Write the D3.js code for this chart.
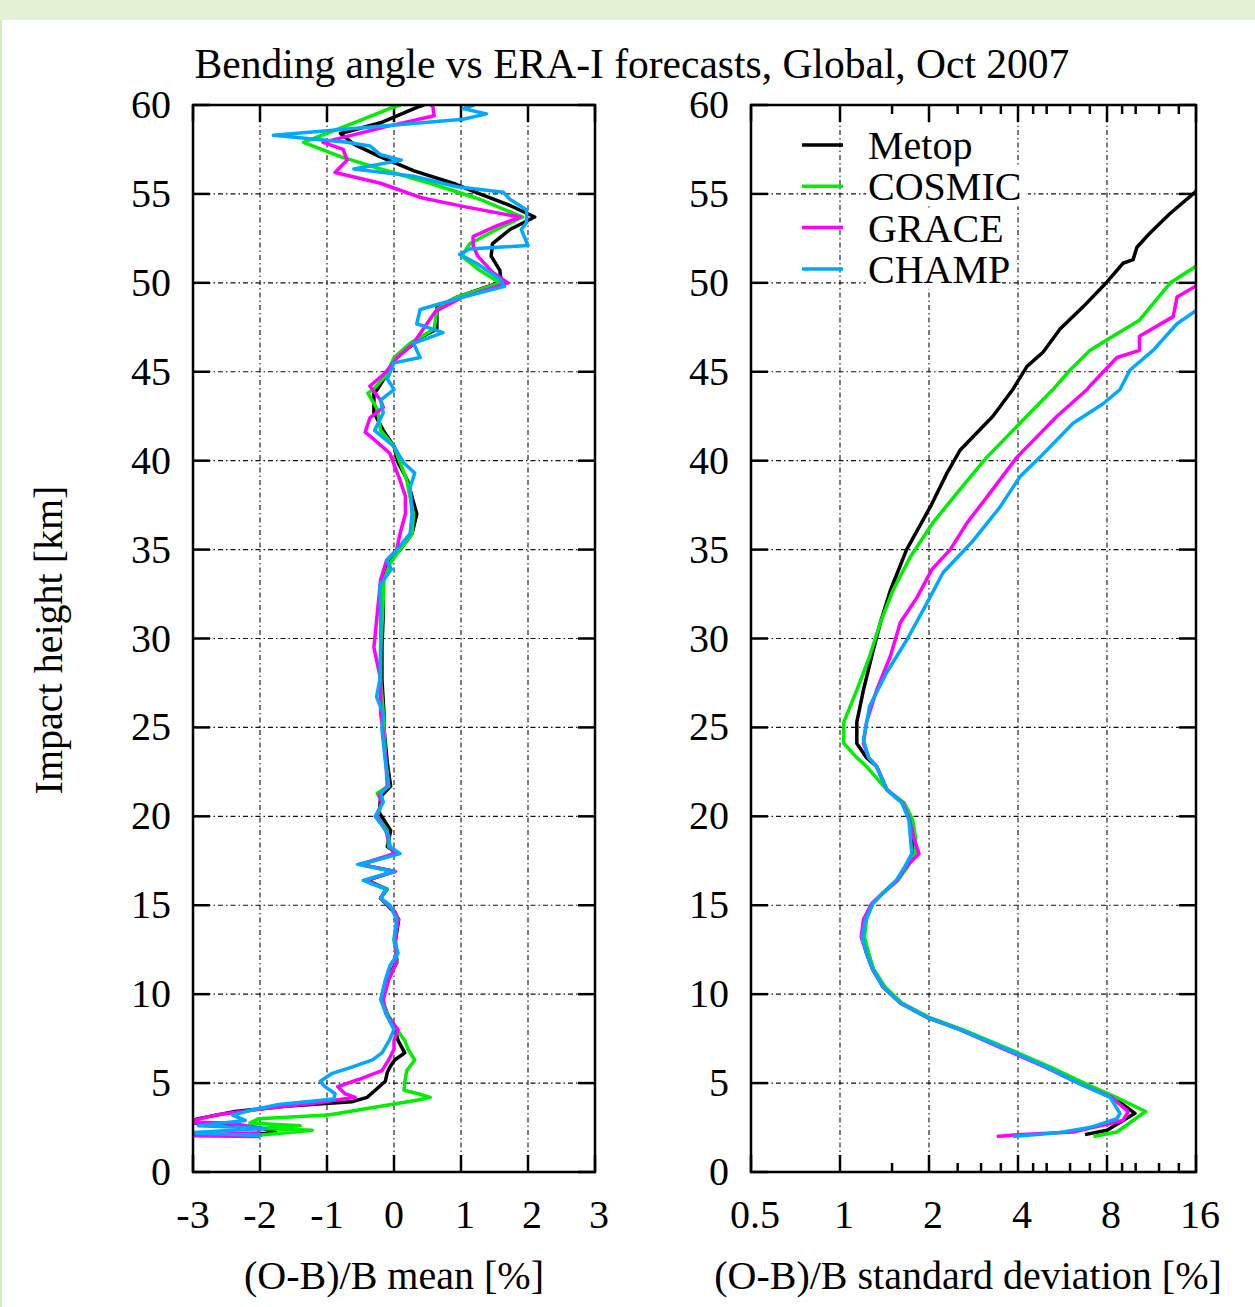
<!DOCTYPE html>
<html>
<head>
<meta charset="utf-8">
<script src="https://cdn.jsdelivr.net/npm/d3@7"></script>
<style>
  body { margin: 0; background: #fff; }
  text { font-family: "Liberation Serif", "Times New Roman", serif; fill: #000; }
  .grid { stroke: #111; stroke-width: 1.1; stroke-dasharray: 5,3,1.5,3; }
</style>
</head>
<body>
<div id="chart"></div>
<script>
var wt = 1255;
var ht = 1307;

var title = "Bending angle vs ERA-I forecasts, Global, Oct 2007";
var seriesNames = ["Metop", "COSMIC", "GRACE", "CHAMP"];
var seriesColors = ["#000000", "#00ee00", "#ff00ff", "#00a8ff"];

var heightTicks = [0, 5, 10, 15, 20, 25, 30, 35, 40, 45, 50, 55, 60];
var meanTicks = [-3, -2, -1, 0, 1, 2, 3];
var sdTicks = [0.5, 1, 2, 4, 8, 16];
var sdMinorTicks = [1.5, 2.5, 3, 3.5, 4.5, 5, 6, 7, 9, 10, 12, 14];

// (O-B)/B mean [%], impact height [km]
var metopMean = [[0.45,60],[0.36,59.9],[-0.2,59.0],[-0.8,58.4],[-0.6,57.8],[-0.21,57.1],[0.3,56.3],[0.88,55.6],[1.28,55.0],[1.7,54.4],[2.1,53.7],[1.73,53.0],[1.47,52.2],[1.45,51.5],[1.58,50.7],[1.6,50.05],[0.94,49.2],[0.64,48.6],[0.64,47.4],[0.43,47.0],[0.04,45.8],[-0.1,44.9],[-0.25,44.0],[-0.3,43.8],[-0.3,42.7],[-0.16,41.7],[0,40.8],[0.06,39.9],[0.2,38.9],[0.34,37.0],[0.27,35.9],[0.09,35.0],[-0.06,34.4],[-0.16,33.3],[-0.16,31.4],[-0.18,29.5],[-0.18,27.7],[-0.15,25.8],[-0.15,25],[-0.1,23],[-0.05,21.7],[-0.2,21.1],[-0.22,20.2],[-0.05,19.2],[-0.1,18.3],[0.05,17.9],[-0.5,17.3],[0.0,16.9],[-0.4,16.4],[-0.1,15.9],[-0.2,15.4],[0.0,14.6],[0.07,14.2],[0.02,13.0],[0.04,11.8],[-0.12,10.8],[-0.17,10.1],[-0.18,9.7],[-0.1,8.9],[0.02,8.0],[0.06,7.4],[0.16,6.7],[0.01,6.3],[-0.06,5.9],[-0.1,5.6],[-0.13,5.1],[-0.28,4.6],[-0.4,4.2],[-0.63,3.95],[-1.62,3.7],[-2.37,3.4],[-2.92,3.0],[-3.1,2.8],[-2.37,2.6],[-1.97,2.45],[-1.77,2.25],[-2.1,2.1]];
var cosmicMean = [[0.1,60],[0,59.9],[-0.6,59.0],[-1.35,57.9],[-0.8,57.1],[-0.2,56.4],[0.54,55.6],[1.28,54.7],[1.92,53.7],[1.53,53.0],[1.13,52.2],[1.01,51.5],[1.28,50.7],[1.58,50.0],[0.94,49.2],[0.64,48.5],[0.6,47.4],[0.24,46.6],[0,45.8],[-0.1,44.9],[-0.31,44.0],[-0.39,43.8],[-0.25,42.9],[-0.2,41.7],[0,40.8],[0.19,38.9],[0.29,37.0],[0.27,35.9],[0.09,35.0],[-0.06,34.2],[-0.15,33.3],[-0.17,31.4],[-0.2,29.5],[-0.2,27.7],[-0.16,25.8],[-0.15,25],[-0.12,23],[-0.08,21.7],[-0.25,21.3],[-0.18,20.8],[-0.25,20.0],[-0.1,19.2],[-0.08,18.3],[0.05,17.9],[-0.52,17.3],[0.0,16.9],[-0.44,16.4],[-0.1,15.9],[-0.2,15.4],[0.02,14.6],[0.06,14.2],[0.0,13.0],[0.05,11.8],[-0.1,10.8],[-0.15,10.1],[-0.18,9.7],[-0.1,8.9],[0.05,8.0],[0.12,7.6],[0.16,7.4],[0.21,6.9],[0.31,6.3],[0.19,5.7],[0.16,5.0],[0.15,4.6],[0.36,4.4],[0.54,4.2],[0.36,4.05],[-0.98,3.2],[-2.02,3.0],[-2.15,2.75],[-1.4,2.6],[-2.0,2.45],[-1.22,2.35],[-2.07,2.05]];
var graceMean = [[0.55,60],[0.58,59.9],[0.6,59.4],[-0.1,58.8],[-1.06,57.9],[-0.76,57.5],[-0.7,56.9],[-0.88,56.2],[-0.2,55.6],[0.39,54.8],[1.03,54.3],[1.88,53.7],[1.53,53.2],[1.18,52.6],[1.18,52.1],[1.25,51.5],[1.47,50.6],[1.7,50.0],[1.03,49.2],[0.62,48.4],[0.29,46.6],[0.05,45.8],[-0.14,44.9],[-0.36,44.2],[-0.2,43.4],[-0.16,43.0],[-0.36,42.4],[-0.43,41.6],[-0.3,41.2],[-0.06,40.4],[0.09,38.9],[0.17,38.0],[0.17,37.0],[0.09,35.9],[0.04,35.0],[-0.11,34.4],[-0.2,33.3],[-0.25,31.4],[-0.3,29.5],[-0.2,27.7],[-0.2,25.8],[-0.17,25],[-0.12,23],[-0.1,21.7],[-0.22,21.2],[-0.18,20.8],[-0.26,20.0],[-0.12,19.2],[-0.06,18.3],[0.0,17.9],[-0.5,17.3],[0.02,16.9],[-0.42,16.4],[-0.12,15.9],[-0.2,15.4],[0.02,14.6],[0.06,14.2],[0.02,13.0],[0.04,11.8],[-0.08,10.8],[-0.13,10.1],[-0.16,9.7],[-0.12,8.9],[0.06,8.0],[0.0,7.4],[0.0,6.9],[-0.08,6.3],[-0.18,5.7],[-0.53,5.2],[-0.84,4.8],[-0.73,4.4],[-0.58,4.2],[-1.13,3.9],[-1.87,3.6],[-2.67,3.2],[-3.1,2.8],[-2.47,2.75],[-2.02,2.5],[-2.02,2.2],[-3.2,2.05],[-2.0,2.0]];
var champMean = [[1.2,60],[1.03,59.8],[1.38,59.5],[1.03,59.2],[-1.8,58.3],[-0.7,57.9],[-0.36,57.7],[-0.2,57.2],[0.11,56.9],[-0.6,56.4],[0.29,56.0],[0.94,55.4],[1.63,55.1],[1.73,54.7],[1.98,54.1],[1.98,53.4],[1.9,53.0],[2.0,52.1],[1.13,51.9],[0.98,51.6],[1.23,51.1],[1.58,50.2],[1.65,49.8],[1.03,49.2],[0.39,48.5],[0.34,47.7],[0.73,47.2],[0.29,46.6],[0.39,45.8],[0,45.5],[-0.1,44.6],[0.0,44.0],[-0.2,43.4],[-0.16,42.7],[-0.29,41.7],[0,40.8],[0.14,39.9],[0.31,39.3],[0.24,38.5],[0.27,37.0],[0.24,35.9],[0,34.8],[-0.11,34.4],[-0.04,33.9],[-0.21,33.0],[-0.2,31.4],[-0.2,29.5],[-0.21,27.7],[-0.26,26.7],[-0.16,25.8],[-0.18,24.9],[-0.13,23.1],[-0.08,21.7],[-0.2,21.3],[-0.16,20.8],[-0.28,20.0],[-0.16,19.4],[-0.08,18.9],[-0.06,18.3],[0.09,17.9],[-0.3,17.5],[-0.54,17.3],[0,16.9],[-0.46,16.4],[-0.12,15.9],[-0.2,15.4],[-0.06,15.0],[0.04,14.2],[0,13.1],[0.06,12.3],[-0.06,11.6],[-0.13,10.8],[-0.17,10.1],[-0.2,9.7],[-0.12,8.9],[0,8.0],[-0.07,7.4],[-0.18,6.7],[-0.32,6.3],[-0.63,5.9],[-0.92,5.55],[-1.1,5.1],[-1.03,4.8],[-0.88,4.4],[-0.9,4.1],[-1.72,3.8],[-2.11,3.5],[-2.41,3.2],[-2.22,2.9],[-2.92,2.6],[-1.92,2.45],[-3.1,2.2],[-1.97,2.05]];

// (O-B)/B standard deviation [%], impact height [km]
var metopSd = [[18,56.5],[15.9,55.1],[13.07,53.9],[11.18,52.8],[10.1,52.0],[9.8,51.3],[9.06,51.1],[8,50.05],[6.64,48.65],[5.55,47.4],[4.86,46.1],[4.29,45.3],[3.84,44.0],[3.29,42.5],[2.55,40.6],[2.3,39.3],[2.02,37.4],[1.68,35.0],[1.48,32.7],[1.37,30.9],[1.28,29.0],[1.2,27.1],[1.14,25.3],[1.14,24.1],[1.23,23.3],[1.33,22.8],[1.44,21.5],[1.63,20.75],[1.73,19.8],[1.77,18.85],[1.79,17.9],[1.68,17.2],[1.56,16.4],[1.4,15.7],[1.29,15.1],[1.22,14.2],[1.19,13.2],[1.23,12.3],[1.29,11.4],[1.4,10.4],[1.6,9.5],[1.97,8.7],[2.55,8.0],[3.67,6.9],[5.0,5.9],[6.49,5.0],[8.38,4.2],[9.95,3.3],[8.0,2.35],[6.74,2.1]];
var cosmicSd = [[18,51.8],[15.9,50.9],[13.1,50.0],[10.3,47.9],[8.0,46.8],[7.0,46.2],[6.0,45.1],[5.25,44.0],[4.06,42.1],[3.14,40.2],[2.55,38.4],[2.06,36.5],[1.73,34.6],[1.51,32.7],[1.37,30.9],[1.26,29.0],[1.14,27.1],[1.03,25.3],[1.03,24.1],[1.14,23.3],[1.23,22.8],[1.44,21.5],[1.65,20.75],[1.76,19.8],[1.8,18.85],[1.8,17.9],[1.7,17.2],[1.57,16.4],[1.4,15.7],[1.29,15.1],[1.23,14.2],[1.21,13.2],[1.25,12.3],[1.3,11.4],[1.42,10.4],[1.62,9.5],[2.0,8.7],[2.6,8.0],[3.75,6.9],[5.15,5.9],[6.7,5.0],[8.6,4.2],[10.8,3.4],[8.65,2.25],[7.2,2.0]];
var graceSd = [[18,50.5],[15.9,49.8],[13.8,49.2],[13.4,48.1],[10.3,47.0],[10.3,46.2],[8.65,45.8],[7.0,44.2],[6.85,44.0],[5.42,42.5],[3.97,40.2],[3.29,38.4],[2.69,36.5],[2.36,35.0],[2.05,33.9],[1.82,32.3],[1.6,30.9],[1.48,29.0],[1.33,27.1],[1.23,25.3],[1.2,24.1],[1.25,23.3],[1.33,22.8],[1.44,21.5],[1.63,20.75],[1.72,19.8],[1.77,18.85],[1.85,17.9],[1.68,17.2],[1.56,16.4],[1.4,15.7],[1.28,15.1],[1.2,14.2],[1.18,13.2],[1.23,12.3],[1.29,11.4],[1.4,10.4],[1.6,9.5],[1.97,8.7],[2.55,8.0],[3.6,6.9],[4.95,5.9],[6.4,5.0],[8.3,4.2],[9.43,3.4],[9.06,2.9],[6.14,2.25],[3.97,2.1],[3.39,2.0]];
var champSd = [[18,49.2],[15.9,48.4],[13.8,47.7],[11.45,46.2],[9.57,45.1],[8.85,44.0],[7.76,43.2],[6.14,42.1],[4.75,40.2],[4.06,39.1],[3.48,37.4],[2.82,35.5],[2.23,33.7],[1.97,32.0],[1.68,29.9],[1.44,28.1],[1.26,26.2],[1.2,24.3],[1.25,23.3],[1.33,22.8],[1.44,21.5],[1.62,20.75],[1.71,19.8],[1.73,18.85],[1.75,17.9],[1.66,17.2],[1.55,16.4],[1.4,15.7],[1.29,15.1],[1.22,14.2],[1.19,13.2],[1.23,12.3],[1.29,11.4],[1.4,10.4],[1.6,9.5],[1.97,8.7],[2.55,8.0],[3.67,6.9],[5.0,5.9],[6.4,5.0],[8.2,4.2],[8.85,3.3],[8.65,3.0],[7.0,2.5],[5.42,2.2],[3.84,2.0]];

var meanSeries = [metopMean, cosmicMean, graceMean, champMean];
var sdSeries = [metopSd, cosmicSd, graceSd, champSd];

var yTop = 105, yBot = 1172;
var fs = 40;

var svg = d3.select("#chart").append("svg")
    .attr("width", wt)
    .attr("height", ht);

// page decoration: pale green band on top and at the left edge
svg.append("rect").attr("x", 0).attr("y", 0).attr("width", wt).attr("height", 20).attr("fill", "#e4f1d4");
svg.append("rect").attr("x", 0).attr("y", 20).attr("width", 2).attr("height", ht - 20).attr("fill", "#d3ebbd");

var y = d3.scaleLinear().domain([0, 60]).range([yBot, yTop]);
var xMean = d3.scaleLinear().domain([-3, 3]).range([193, 595]);
var xSd = d3.scaleLog().base(2).domain([0.5, 16]).range([751, 1196]);

function drawPanel(id, x, majors, minors, labels, data) {
    var x0 = x.range()[0], x1 = x.range()[1];
    var g = svg.append("g");

    svg.append("clipPath").attr("id", id)
        .append("rect").attr("x", x0).attr("y", yTop).attr("width", x1 - x0).attr("height", yBot - yTop);

    // grid
    g.selectAll(".hgrid").data(heightTicks.slice(1, -1)).enter().append("line")
        .attr("class", "grid")
        .attr("x1", x0).attr("x2", x1)
        .attr("y1", function (d) { return y(d); })
        .attr("y2", function (d) { return y(d); });
    g.selectAll(".vgrid").data(majors.slice(1, -1)).enter().append("line")
        .attr("class", "grid")
        .attr("x1", function (d) { return x(d); })
        .attr("x2", function (d) { return x(d); })
        .attr("y1", yTop).attr("y2", yBot);

    // ticks (inward, all four sides)
    var tk = g.append("g").attr("stroke", "#000").attr("stroke-width", 2.5);
    heightTicks.forEach(function (h) {
        tk.append("line").attr("x1", x0).attr("x2", x0 + 17).attr("y1", y(h)).attr("y2", y(h));
        tk.append("line").attr("x1", x1).attr("x2", x1 - 17).attr("y1", y(h)).attr("y2", y(h));
    });
    majors.forEach(function (v) {
        tk.append("line").attr("x1", x(v)).attr("x2", x(v)).attr("y1", yBot).attr("y2", yBot - 17);
        tk.append("line").attr("x1", x(v)).attr("x2", x(v)).attr("y1", yTop).attr("y2", yTop + 17);
    });
    minors.forEach(function (v) {
        tk.append("line").attr("x1", x(v)).attr("x2", x(v)).attr("y1", yBot).attr("y2", yBot - 9);
        tk.append("line").attr("x1", x(v)).attr("x2", x(v)).attr("y1", yTop).attr("y2", yTop + 9);
    });

    // data
    var line = d3.line()
        .x(function (d) { return x(d[0]); })
        .y(function (d) { return y(d[1]); });
    var lines = g.append("g").attr("clip-path", "url(#" + id + ")");
    data.forEach(function (s, i) {
        lines.append("path")
            .datum(s)
            .attr("d", line)
            .attr("fill", "none")
            .attr("stroke", seriesColors[i])
            .attr("stroke-width", 3.5)
            .attr("stroke-linejoin", "round");
    });

    // frame
    g.append("rect")
        .attr("x", x0).attr("y", yTop)
        .attr("width", x1 - x0).attr("height", yBot - yTop)
        .attr("fill", "none").attr("stroke", "#000").attr("stroke-width", 2.5);

    // labels
    g.selectAll(".ylab").data(heightTicks).enter().append("text")
        .attr("x", x0 - 22)
        .attr("y", function (d) { return y(d) + 13; })
        .attr("text-anchor", "end")
        .style("font-size", fs + "px")
        .text(function (d) { return d; });
    g.selectAll(".xlab").data(majors).enter().append("text")
        .attr("x", function (d) { return x(d) + (d > 0 ? 4 : 0); })
        .attr("y", 1228)
        .attr("text-anchor", "middle")
        .style("font-size", fs + "px")
        .text(function (d, i) { return labels[i]; });
    return g;
}

drawPanel("clipMean", xMean, meanTicks, [], meanTicks.map(String), meanSeries);
drawPanel("clipSd", xSd, sdTicks, sdMinorTicks, sdTicks.map(String), sdSeries);

// titles
svg.append("text")
    .attr("x", 632).attr("y", 78)
    .attr("text-anchor", "middle")
    .style("font-size", "41.5px")
    .text(title);

svg.append("text")
    .attr("x", 394).attr("y", 1289)
    .attr("text-anchor", "middle")
    .style("font-size", fs + "px")
    .text("(O-B)/B mean [%]");

svg.append("text")
    .attr("x", 968).attr("y", 1289)
    .attr("text-anchor", "middle")
    .style("font-size", fs + "px")
    .text("(O-B)/B standard deviation [%]");

svg.append("text")
    .attr("transform", "translate(62,640) rotate(-90)")
    .attr("text-anchor", "middle")
    .style("font-size", fs + "px")
    .text("Impact height [km]");

// legend
var legend = svg.append("g").selectAll("g").data(seriesNames).enter().append("g")
    .attr("transform", function (d, i) { return "translate(0," + (145 + i * 41.3) + ")"; });
legend.append("rect")
    .attr("x", 866).attr("y", -20).attr("width", function (d) { return d.length * 26 + 6; }).attr("height", 40)
    .attr("fill", "#fff");
legend.append("line")
    .attr("x1", 802).attr("x2", 843)
    .attr("stroke", function (d, i) { return seriesColors[i]; })
    .attr("stroke-width", 3.5);
legend.append("text")
    .attr("x", 868).attr("y", 14)
    .style("font-size", fs + "px")
    .text(function (d) { return d; });
</script>
</body>
</html>
